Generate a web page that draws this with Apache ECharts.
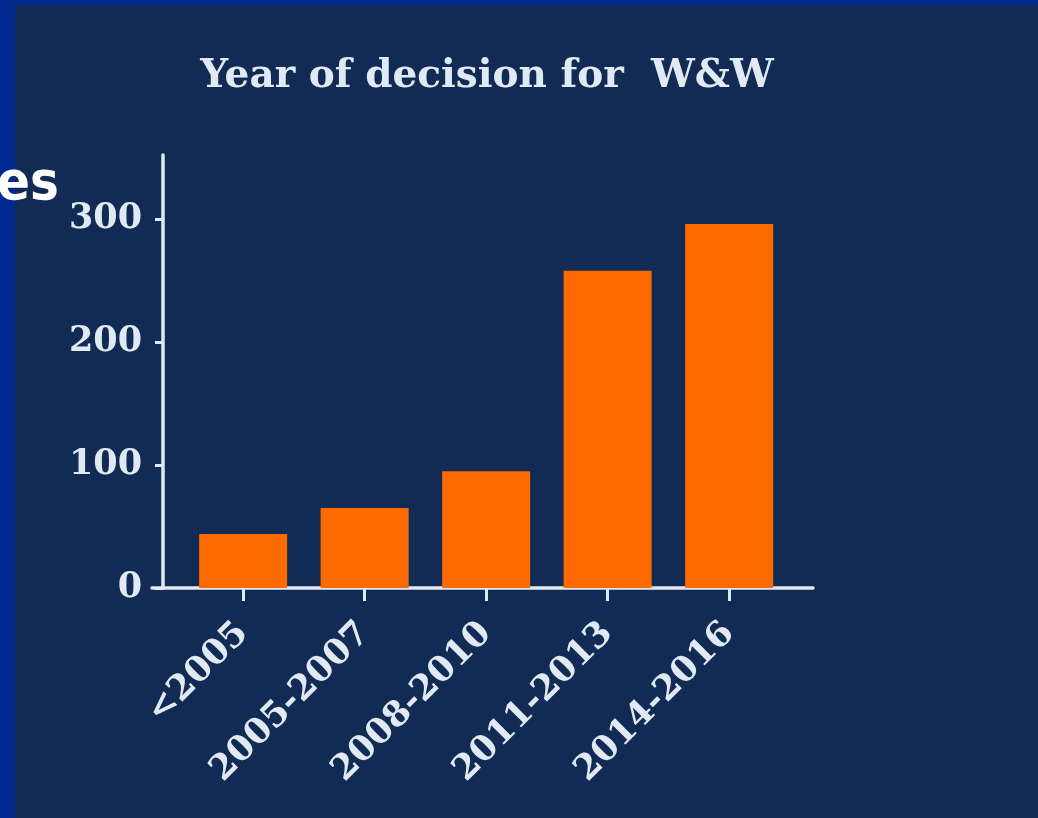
<!DOCTYPE html>
<html>
<head>
<meta charset="utf-8">
<style>
  html, body { margin: 0; padding: 0; background: #112b55; }
  #chart { width: 1038px; height: 818px; }
</style>
<script src="https://cdn.jsdelivr.net/npm/echarts@6/dist/echarts.min.js"></script>
</head>
<body>
<div id="chart"></div>
<script>
// Decision periods and counts
const categories = ['<2005', '2005-2007', '2008-2010', '2011-2013', '2014-2016'];
const counts = [44, 65, 95, 258, 296];
const yTicks = [0, 100, 200, 300];

const positions = categories.map((_, i) => i);
const barData = positions.map((p, i) => [p, counts[i]]);

const ink = '#e1eaf3';
const serif = '"DejaVu Serif", "Liberation Serif", serif';

const chart = echarts.init(document.getElementById('chart'), null, { renderer: 'canvas' });

chart.setOption({
  backgroundColor: '#112b55',
  animation: false,
  title: {
    text: 'Year of decision for  W&W',
    left: 482,
    textAlign: 'center',
    top: 52,
    textStyle: { color: ink, fontFamily: serif, fontWeight: 'bold', fontSize: 39 }
  },
  graphic: [
    { type: 'rect', shape: { x: 0, y: 0, width: 1038, height: 5 }, style: { fill: '#01298f' }, silent: true },
    { type: 'rect', shape: { x: 0, y: 0, width: 15, height: 818 }, style: { fill: '#01298f' }, silent: true },
    {
      type: 'text', x: 59, y: 185, silent: true,
      style: {
        text: 'es',
        align: 'right',
        verticalAlign: 'middle',
        fill: '#ffffff',
        font: 'bold 54px "DejaVu Sans Condensed", "DejaVu Sans", sans-serif',
        shadowColor: 'rgba(0,0,0,0.9)',
        shadowOffsetX: 3,
        shadowOffsetY: 3,
        shadowBlur: 2
      }
    }
  ],
  grid: { left: 152, top: 155, width: 661, height: 433, containLabel: false },
  xAxis: {
    type: 'value',
    min: -0.75,
    max: 4.69,
    splitLine: { show: false },
    axisLine: { show: true, onZero: false, lineStyle: { color: ink, width: 3.5 } },
    axisTick: { show: true, customValues: positions, length: 13, lineStyle: { color: ink, width: 3 } },
    axisLabel: {
      customValues: positions,
      formatter: (v) => categories[Math.round(v)] || '',
      rotate: 45,
      margin: 40,
      color: ink,
      fontFamily: serif,
      fontWeight: 'bold',
      fontSize: 35
    }
  },
  yAxis: {
    type: 'value',
    min: 0,
    max: 352,
    offset: -11,
    splitLine: { show: false },
    axisLine: { show: true, onZero: false, lineStyle: { color: ink, width: 3.5 } },
    axisTick: { show: true, customValues: yTicks, length: 8, lineStyle: { color: ink, width: 3 } },
    axisLabel: {
      customValues: yTicks,
      margin: 21,
      color: ink,
      fontFamily: serif,
      fontWeight: 'bold',
      fontSize: 35
    }
  },
  series: [{
    type: 'bar',
    data: barData,
    barWidth: 88,
    itemStyle: { color: '#ff6a00' }
  }]
});
</script>
</body>
</html>
